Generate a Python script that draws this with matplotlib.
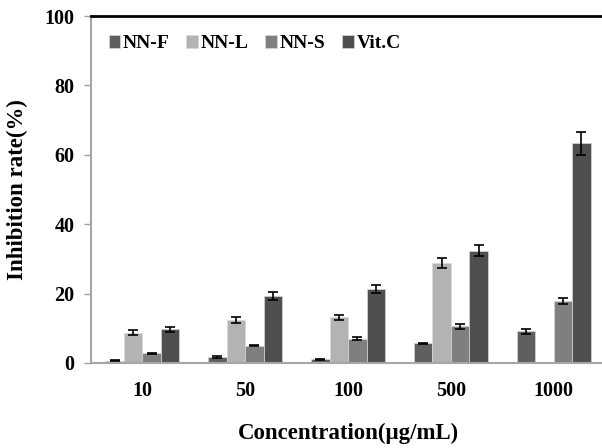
import numpy as np
import matplotlib
matplotlib.use('Agg')
import matplotlib.pyplot as plt

concentracoes = ['10', '50', '100', '500', '1000']
series = ['NN-F', 'NN-L', 'NN-S', 'Vit.C']

nn_f  = [0.7, 1.8, 1.05, 5.7, 9.2]
nn_l  = [8.7, 12.4, 13.2, 28.8, 0.0]
nn_s  = [2.8, 5.0, 7.0, 10.6, 17.8]
vit_c = [9.7, 19.2, 21.3, 32.4, 63.3]

err_f  = [0.2, 0.3, 0.1, 0.2, 0.7]
err_l  = [0.7, 0.8, 0.7, 1.55, 0.0]
err_s  = [0.2, 0.2, 0.4, 0.67, 0.9]
err_c  = [0.65, 1.15, 1.15, 1.6, 3.3]

cores = ['#5f5f5f', '#b3b3b3', '#7f7f7f', '#4f4f4f']

plt.rcParams['font.family'] = ['Liberation Serif', 'DejaVu Serif']
plt.rcParams['font.weight'] = 'bold'

fig = plt.figure(figsize=(6.02, 4.48), dpi=100)
ax = fig.add_axes([91 / 602, 1 - 363 / 448, 1 - 91 / 602 + 0.005, (363 - 16) / 448])

x = np.arange(len(concentracoes))
largura = 0.18
valores = [nn_f, nn_l, nn_s, vit_c]
erros = [err_f, err_l, err_s, err_c]

for i, (nome, vals, errs, cor) in enumerate(zip(series, valores, erros, cores)):
    pos = x + (i - 1.5) * largura
    ax.bar(pos, vals, largura, color=cor, edgecolor='#d8d8d8', linewidth=0.5,
           label=nome, zorder=2)
    mask = np.array(vals) > 0
    ax.errorbar(pos[mask], np.array(vals)[mask], yerr=np.array(errs)[mask],
                fmt='none', ecolor='black', elinewidth=1.2, capsize=3.5,
                capthick=1.2, zorder=3)

ax.set_ylim(0, 100)
ax.set_xlim(-0.5, 4.5)
ax.set_yticks([0, 20, 40, 60, 80, 100])
ax.set_xticks(x)
ax.set_xticklabels(concentracoes)

for lab in ax.get_xticklabels() + ax.get_yticklabels():
    lab.set_fontsize(14.5)
    lab.set_fontweight('bold')

ax.tick_params(axis='x', length=0, pad=13)
ax.tick_params(axis='y', length=5, width=1, color='#a0a0a0', pad=7)

ax.spines['right'].set_visible(False)
ax.spines['left'].set_color('#a6a6a6')
ax.spines['left'].set_linewidth(1.5)
ax.spines['bottom'].set_color('#a6a6a6')
ax.spines['bottom'].set_linewidth(1.5)
ax.spines['top'].set_color('black')
ax.spines['top'].set_linewidth(2)

ax.set_xlabel('Concentration(μg/mL)', fontsize=16.5, fontweight='bold', labelpad=16)
ax.set_ylabel('Inhibition rate(%)', fontsize=16.5, fontweight='bold', labelpad=12)

leg = ax.legend(loc='upper left', ncol=4, frameon=False,
                handlelength=0.6, handleheight=0.6, handletextpad=0.15,
                columnspacing=0.85, bbox_to_anchor=(0.0, 0.995),
                prop={'weight': 'bold', 'size': 14})

fig.savefig('out.png', dpi=100)
